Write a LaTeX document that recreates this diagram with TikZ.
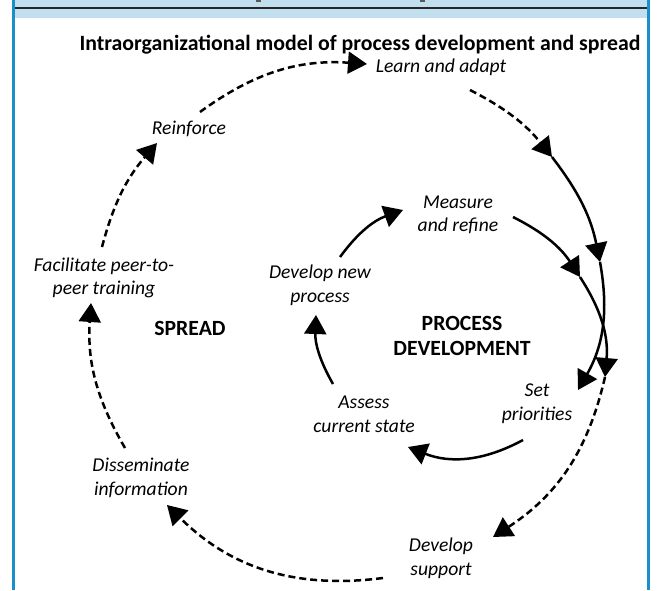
\documentclass[tikz,border=0pt]{standalone}
\usepackage{fontspec}
\setmainfont{Carlito}
\usetikzlibrary{arrows.meta}
\definecolor{bandblue}{HTML}{C2DFEF}
\definecolor{frameblue}{HTML}{1A8FC9}
\begin{document}
\begin{tikzpicture}[x=1pt,y=1pt,
  lbl/.style={font=\fontsize{19.6}{23.5}\selectfont\itshape, align=center, inner sep=0pt},
  hdr/.style={font=\fontsize{21.7}{25}\selectfont\bfseries, align=center, inner sep=0pt},
  ttl/.style={font=\fontsize{21.8}{25}\selectfont\bfseries, inner sep=0pt},
  tipstyle/.style={-{Triangle[length=19pt,width=22pt]}},
  solidarrow/.style={tipstyle, line width=2.5pt},
  dasharrow/.style={tipstyle, line width=2.5pt, dash pattern=on 7pt off 4pt},
]
\useasboundingbox (0,0) rectangle (658,590);
\fill[white] (0,0) rectangle (658,590);
% header band and frame
\fill[bandblue] (15,572) rectangle (647,590);
\draw[line width=1.2pt, black!85] (15,582) -- (647,582);
\fill[black!65] (256,588) rectangle (261,590);
\fill[black!65] (420,588) rectangle (425,590);
\fill[frameblue] (12,0) rectangle (15,590);
\fill[frameblue] (647,0) rectangle (650,590);

% texts
\node[ttl] (title) at (360,545) {Intraorganizational model of process development and spread};
\node[lbl] (learn) at (441,523) {Learn and adapt};
\node[lbl] (reinforce) at (189,461) {Reinforce};
\node[lbl] (facil) at (104,312) {Facilitate peer-to-\\peer training};
\node[hdr] (spread) at (190,262) {SPREAD};
\node[lbl] (dissem) at (141,112) {Disseminate\\information};
\node[lbl] (devsup) at (441,31.5) {Develop\\support};
\node[lbl] (setp) at (537,186.5) {Set\\priorities};
\node[lbl] (assess) at (364,175.5) {Assess\\current state};
\node[lbl] (devnew) at (320,304.5) {Develop new\\process};
\node[lbl] (measure) at (458,375) {Measure\\and refine};
\node[hdr] (procdev) at (462,254.5) {PROCESS\\DEVELOPMENT};

% connector end points
\coordinate (a1s) at (200,478);
\coordinate (a1e) at (367,526);
\coordinate (a2s) at (470,500);
\coordinate (a2e) at (552,433);
\coordinate (a3s) at (102,343);
\coordinate (a3e) at (157,447);
\coordinate (a4s) at (125,142);
\coordinate (a4e) at (91,287);
\coordinate (a5s) at (383,12);
\coordinate (a5e) at (167,85);
\coordinate (a6s) at (605,213);
\coordinate (a6e) at (493,53);
\coordinate (s1e) at (600,328);
\coordinate (s2e) at (578,200);
\coordinate (s3s) at (513,373);
\coordinate (s3e) at (580,313);
\coordinate (i1s) at (523,150);
\coordinate (i1e) at (408,143);
\coordinate (i2s) at (333,206);
\coordinate (i2e) at (316,275);
\coordinate (i3s) at (340,333);
\coordinate (i3e) at (403,380);

% outer (spread) cycle, dashed
\draw[dasharrow] (a1s) to[bend left=20] (a1e);
\draw[dasharrow] (a2s) to[bend left=12] (a2e);
\draw[dasharrow] (a3s) to[bend left=13] (a3e);
\draw[dasharrow] (a4s) to[bend left=17] (a4e);
\draw[dasharrow] (a5s) to[bend left=26] (a5e);
\draw[dasharrow] (a6s) to[bend left=22] (a6e);

% crossing strands, solid
\draw[solidarrow] (a2e) to[bend left=13] (s1e);
\draw[solidarrow] (s1e) to[bend left=20] (s2e);
\draw[solidarrow] (s3s) to[bend left=15] (s3e);
\draw[solidarrow] (s3e) to[bend left=19] (a6s);

% inner (process development) cycle, solid
\draw[solidarrow] (i1s) to[bend left=25] (i1e);
\draw[solidarrow] (i2s) to[bend left=16] (i2e);
\draw[solidarrow] (i3s) to[bend left=17] (i3e);
\end{tikzpicture}
\end{document}
